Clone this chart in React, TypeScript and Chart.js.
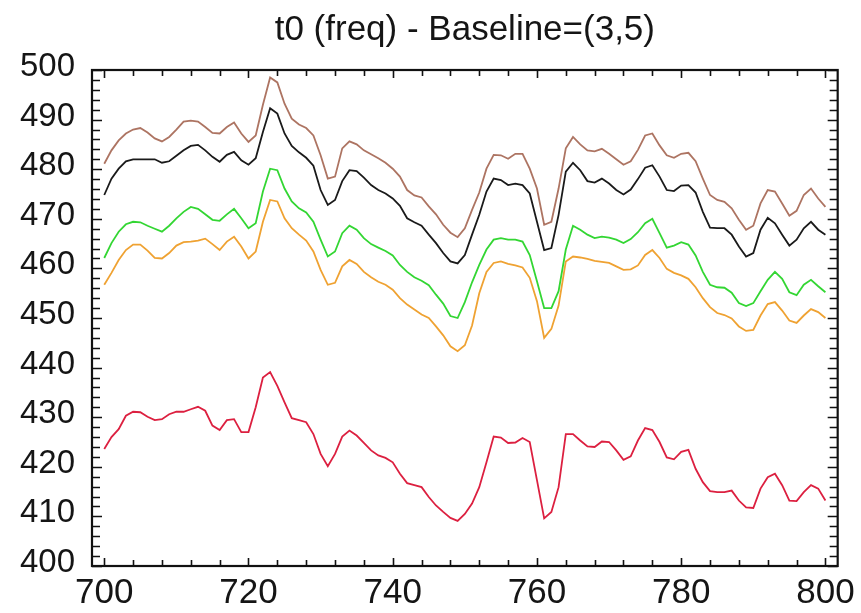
import React, { useEffect, useRef } from 'react';
import { Chart, registerables } from 'chart.js';

Chart.register(...registerables);

const TITLE = 't0 (freq) - Baseline=(3,5)';

const xValues = [
  700, 701, 702, 703, 704, 705, 706, 707, 708, 709,
  710, 711, 712, 713, 714, 715, 716, 717, 718, 719,
  720, 721, 722, 723, 724, 725, 726, 727, 728, 729,
  730, 731, 732, 733, 734, 735, 736, 737, 738, 739,
  740, 741, 742, 743, 744, 745, 746, 747, 748, 749,
  750, 751, 752, 753, 754, 755, 756, 757, 758, 759,
  760, 761, 762, 763, 764, 765, 766, 767, 768, 769,
  770, 771, 772, 773, 774, 775, 776, 777, 778, 779,
  780, 781, 782, 783, 784, 785, 786, 787, 788, 789,
  790, 791, 792, 793, 794, 795, 796, 797, 798, 799,
  800,
];

const brownSeries = [
  481.1, 483.8, 485.8, 487.2, 488.0, 488.3, 487.4, 486.2, 485.6, 486.5,
  488.0, 489.6, 489.8, 489.6, 488.5, 487.3, 487.2, 488.5, 489.4, 487.2,
  485.5, 486.8, 493.0, 498.5, 497.5, 493.2, 490.2, 489.0, 488.3, 486.8,
  482.8, 478.1, 478.5, 484.2, 485.6, 485.0, 483.8, 483.0, 482.2, 481.3,
  480.1, 478.5, 475.8, 474.7, 474.3, 472.5, 470.9, 468.8, 467.2, 466.3,
  468.1, 471.8, 475.3, 480.1, 482.9, 482.8, 482.1, 483.1, 483.1, 480.1,
  476.1, 468.8, 469.4, 476.1, 484.2, 486.5, 485.0, 483.8, 483.6, 484.1,
  483.1, 482.0, 480.9, 481.6, 483.9, 486.8, 487.2, 484.8, 482.8, 482.3,
  483.1, 483.3, 481.6, 478.1, 474.8, 473.8, 473.4, 472.1, 469.8, 467.8,
  468.6, 473.1, 475.8, 475.5, 473.1, 470.6, 471.6, 474.8, 476.1, 474.1,
  472.4,
];

const blackSeries = [
  474.8, 478.1, 480.1, 481.6, 482.0, 482.0, 482.0, 482.0, 481.3, 481.6,
  482.7, 483.8, 484.7, 484.9, 483.8, 482.5, 481.5, 482.9, 483.5, 481.8,
  480.9, 482.2, 487.5, 492.3, 491.2, 487.2, 484.7, 483.4, 482.3, 480.7,
  475.8, 472.8, 473.8, 477.6, 479.8, 479.6, 478.3, 476.8, 475.8, 475.1,
  474.1, 472.6, 470.1, 469.3, 468.6, 466.8, 465.1, 463.1, 461.4, 461.0,
  462.7, 466.8, 470.8, 475.5, 478.1, 477.8, 476.8, 477.1, 476.8, 475.1,
  469.4, 463.7, 464.1, 470.8, 479.5, 481.3, 479.8, 477.6, 477.3, 478.1,
  477.1, 475.8, 474.9, 475.9, 478.0, 480.3, 480.8, 478.5, 475.8, 475.6,
  476.7, 476.8, 475.3, 471.4, 468.2, 468.1, 468.1, 466.8, 464.4, 462.4,
  463.1, 467.8, 470.2, 469.1, 466.8, 464.6, 465.8, 468.1, 469.4, 467.8,
  466.8,
];

const greenSeries = [
  462.1, 465.1, 467.4, 468.9, 469.4, 469.3, 468.6, 468.0, 467.4, 468.6,
  470.1, 471.4, 472.4, 472.0, 470.9, 469.8, 469.6, 470.9, 472.0, 470.1,
  468.1, 469.1, 475.5, 480.1, 479.8, 476.1, 473.5, 472.1, 471.3, 469.4,
  465.8, 462.4, 463.4, 467.1, 468.6, 467.8, 466.1, 464.9, 464.2, 463.5,
  462.6, 460.7, 459.3, 458.2, 457.5, 456.6, 454.7, 452.9, 450.4, 450.0,
  453.2, 457.2, 460.7, 463.8, 465.8, 466.1, 465.8, 465.8, 465.4, 462.7,
  457.4, 452.0, 452.0, 455.4, 463.8, 468.6, 467.8, 466.8, 466.1, 466.4,
  466.2, 465.8, 465.1, 465.9, 467.3, 469.1, 470.0, 467.1, 464.2, 464.6,
  465.3, 464.8, 462.6, 459.3, 456.7, 456.2, 456.1, 455.1, 453.0, 452.4,
  453.0, 455.4, 457.7, 459.3, 457.9, 455.2, 454.6, 456.7, 457.7, 456.4,
  455.2,
];

const orangeSeries = [
  456.7, 459.1, 461.7, 463.7, 464.8, 464.8, 463.6, 462.1, 462.0, 463.1,
  464.6, 465.3, 465.4, 465.6, 466.0, 464.9, 463.7, 465.4, 466.4, 464.4,
  462.0, 463.4, 469.4, 473.8, 473.5, 470.1, 468.1, 466.8, 465.6, 463.4,
  459.7, 456.7, 457.1, 460.4, 461.7, 460.9, 459.3, 458.2, 457.3, 456.7,
  455.7, 454.0, 452.7, 451.7, 450.7, 450.0, 448.3, 446.5, 444.3, 443.3,
  444.5, 448.5, 455.0, 459.3, 461.1, 461.4, 460.9, 460.6, 460.2, 458.1,
  453.4, 446.0, 447.8, 452.5, 461.4, 462.4, 462.2, 461.9, 461.5, 461.3,
  461.1, 460.4, 459.7, 459.8, 460.6, 462.7, 463.7, 462.1, 459.9, 459.1,
  458.6, 457.9, 456.2, 454.0, 452.2, 451.0, 450.6, 449.9, 448.3, 447.4,
  447.6, 450.5, 452.8, 453.2, 451.5, 449.5, 449.0, 450.5, 451.8, 451.2,
  450.0,
];

const redSeries = [
  423.6, 426.0, 427.6, 430.3, 431.1, 431.0, 430.1, 429.4, 429.6, 430.6,
  431.1, 431.1, 431.6, 432.1, 431.3, 428.3, 427.4, 429.4, 429.6, 427.0,
  427.0, 432.0, 438.0, 439.1, 436.3, 433.0, 429.8, 429.4, 429.0, 426.6,
  422.6, 420.1, 422.6, 426.1, 427.3, 426.3, 424.8, 423.3, 422.3, 421.8,
  420.9, 418.6, 416.7, 416.3, 415.9, 413.9, 412.2, 410.9, 409.7, 409.1,
  410.5, 412.6, 415.9, 420.9, 426.1, 425.9, 424.8, 424.9, 425.8, 425.0,
  417.3, 409.6, 410.9, 415.9, 426.6, 426.6, 425.3, 424.1, 424.0, 425.1,
  425.0, 423.3, 421.4, 422.1, 425.3, 427.8, 427.4, 425.0, 421.9, 421.5,
  423.0, 423.4, 419.6, 416.9, 415.1, 414.9, 414.9, 415.2, 413.2, 411.8,
  411.7, 415.6, 417.9, 418.6, 416.3, 413.2, 413.1, 414.9, 416.3, 415.6,
  413.2,
];

const xTickLabels = [700, 720, 740, 760, 780, 800];
const yTickLabels = [400, 410, 420, 430, 440, 450, 460, 470, 480, 490, 500];
const xMinorStep = 4;
const yMinorStep = 2;

const FONT = "'Liberation Sans', Arial, Helvetica, sans-serif";

const framePlugin = {
  id: 'frameTicks',
  afterDraw(chart: any) {
    const { ctx, chartArea: a, scales } = chart;
    const xs = scales.x;
    const ys = scales.y;
    ctx.save();
    ctx.strokeStyle = '#111';
    ctx.lineWidth = 1.6;
    for (let v = xTickLabels[0]; v <= xTickLabels[xTickLabels.length - 1] + 0.001; v += xMinorStep) {
      const px = Math.round(xs.getPixelForValue(v)) + 0.5;
      const len = v % 20 === 0 ? 8 : 6;
      ctx.beginPath();
      ctx.moveTo(px, a.bottom);
      ctx.lineTo(px, a.bottom - len);
      ctx.moveTo(px, a.top);
      ctx.lineTo(px, a.top + len);
      ctx.stroke();
    }
    for (let v = yTickLabels[0]; v <= yTickLabels[yTickLabels.length - 1] + 0.001; v += yMinorStep) {
      const py = Math.round(ys.getPixelForValue(v)) + 0.5;
      const len = v % 10 === 0 ? 10 : 8;
      ctx.beginPath();
      ctx.moveTo(a.left, py);
      ctx.lineTo(a.left + len, py);
      ctx.moveTo(a.right, py);
      ctx.lineTo(a.right - len, py);
      ctx.stroke();
    }
    ctx.lineWidth = 2.2;
    ctx.strokeRect(a.left, a.top, a.right - a.left, a.bottom - a.top);
    ctx.restore();
  },
};

const bgPlugin = {
  id: 'whiteBg',
  beforeDraw(chart: any) {
    const { ctx, width, height } = chart;
    ctx.save();
    ctx.fillStyle = '#ffffff';
    ctx.fillRect(0, 0, width, height);
    ctx.restore();
  },
};

function toPoints(values: number[]) {
  return values.map((y, i) => ({ x: xValues[i], y }));
}

export default function App() {
  const canvasRef = useRef<HTMLCanvasElement | null>(null);

  useEffect(() => {
    if (!canvasRef.current) return;
    const mk = (label: string, data: number[], color: string) => ({
      label,
      data: toPoints(data),
      borderColor: color,
      backgroundColor: color,
      borderWidth: 1.8,
      pointRadius: 0,
      tension: 0,
      fill: false,
    });
    const chart = new Chart(canvasRef.current, {
      type: 'line',
      data: {
        datasets: [
          mk('brown', brownSeries, '#ad7462'),
          mk('black', blackSeries, '#1a1a1a'),
          mk('green', greenSeries, '#33d633'),
          mk('orange', orangeSeries, '#efa232'),
          mk('red', redSeries, '#dc2040'),
        ],
      },
      options: {
        animation: false,
        responsive: false,
        maintainAspectRatio: false,
        layout: { padding: { left: 0, right: 22, top: 0, bottom: 0 } },
        plugins: {
          legend: { display: false },
          tooltip: { enabled: false },
          title: {
            display: true,
            text: TITLE,
            fullSize: false,
            color: '#151515',
            font: { family: FONT, size: 35, weight: 'normal' },
            padding: { top: 9, bottom: 19 },
          },
        },
        scales: {
          x: {
            type: 'linear',
            min: 698.3,
            max: 801.7,
            afterBuildTicks: (s: any) => {
              s.ticks = xTickLabels.map((v) => ({ value: v }));
            },
            afterFit: (s: any) => {
              s.height = 47;
            },
            grid: { display: false, drawTicks: false },
            border: { display: false },
            ticks: {
              autoSkip: false,
              maxRotation: 0,
              padding: 6,
              color: '#151515',
              font: { family: FONT, size: 35 },
              callback: (v: any) => String(v),
            },
          },
          y: {
            type: 'linear',
            min: 400,
            max: 500,
            afterBuildTicks: (s: any) => {
              s.ticks = yTickLabels.map((v) => ({ value: v }));
            },
            afterFit: (s: any) => {
              s.width = 92;
            },
            grid: { display: false, drawTicks: false },
            border: { display: false },
            ticks: {
              autoSkip: false,
              padding: 17,
              labelOffset: -3,
              color: '#151515',
              font: { family: FONT, size: 33 },
              callback: (v: any) => String(v),
            },
          },
        },
      },
      plugins: [bgPlugin, framePlugin],
    });
    return () => chart.destroy();
  }, []);

  return (
    <div
      style={{
        position: 'absolute',
        left: 0,
        top: 0,
        width: 861,
        height: 613,
        background: '#ffffff',
      }}
    >
      <canvas ref={canvasRef} width={861} height={613} style={{ display: 'block' }} />
    </div>
  );
}
